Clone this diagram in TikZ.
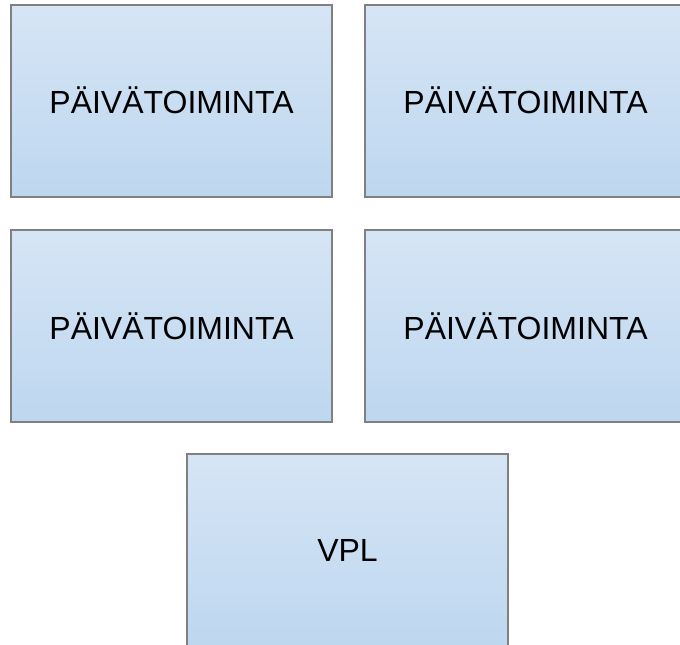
\documentclass[tikz,border=0pt]{standalone}
\usepackage{fontspec}
\setmainfont{Liberation Sans}
\definecolor{boxtop}{RGB}{214,229,246}
\definecolor{boxbot}{RGB}{189,215,239}
\definecolor{boxedge}{RGB}{128,128,128}
\begin{document}
\begin{tikzpicture}[x=1pt,y=-1pt,
  pbox/.style={draw=boxedge, line width=1.6pt, top color=boxtop, bottom color=boxbot,
    minimum width=321pt, minimum height=192pt, inner sep=0pt,
    font=\fontsize{32}{38}\selectfont, text=black}]
\useasboundingbox (0,0) rectangle (680,645);
\clip (0,0) rectangle (680,645);
\node[pbox] (a) at (171.5,100.75) {PÄIVÄTOIMINTA};
\node[pbox] (b) at (525.5,100.75) {PÄIVÄTOIMINTA};
\node[pbox] (c) at (171.5,326) {PÄIVÄTOIMINTA};
\node[pbox] (d) at (525.5,326) {PÄIVÄTOIMINTA};
\node[pbox] (e) at (347.5,550) {VPL};
\end{tikzpicture}
\end{document}
